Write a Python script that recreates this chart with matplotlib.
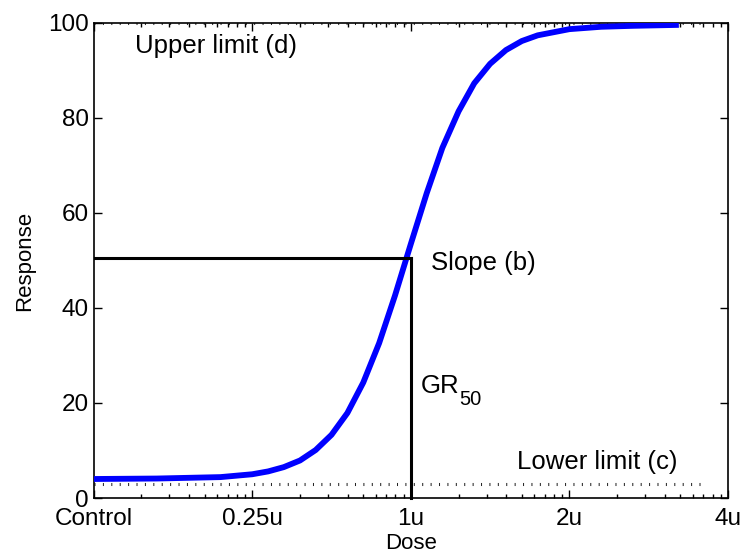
"""Courbe dose-réponse log-logistique avec annotations des paramètres (b, c, d, GR50)."""
import matplotlib
matplotlib.use("Agg")
import matplotlib.pyplot as plt
from matplotlib.ticker import FixedLocator, LogLocator, NullFormatter

plt.rcParams["font.family"] = ["Liberation Sans", "DejaVu Sans"]

# points (dose en échelle log, réponse en %)
dose = [1.0, 2.5, 6.3, 10.0, 12.6, 15.8, 20.0, 25.1, 31.6, 39.8, 50.1,
        63.1, 79.4, 100, 126, 158, 200, 251, 316, 398, 501, 631,
        1000, 1585, 2512, 4900]
response = [4.0, 4.1, 4.4, 5.0, 5.6, 6.5, 7.9, 10.1, 13.3, 17.9, 24.3,
            32.6, 42.6, 53.5, 64.2, 73.7, 81.4, 87.3, 91.4, 94.3, 96.2, 97.4,
            98.7, 99.2, 99.4, 99.6]

tick_pos = [1, 10, 100, 1000, 10000]
tick_labels = ["Control", "0.25u", "1u", "2u", "4u"]

gr50_dose = 100
gr50_resp = 50.5
lower_c = 3
upper_d = 100
limit_end = 7000

fig = plt.figure(figsize=(7.42, 5.55), dpi=100)
ax = fig.add_axes([0.1263, 0.1027, 0.8548, 0.8559])

ax.plot(dose, response, color="#0000ff", lw=4.2, solid_joinstyle="round",
        solid_capstyle="butt", zorder=3)

# limites haute / basse en pointillé
for yv in (lower_c, upper_d):
    ax.plot([1, limit_end], [yv, yv], color="#222222", lw=2.2,
            dashes=(0.33, 2.42), dash_capstyle="butt", zorder=2)

# repère GR50
ax.plot([1, gr50_dose], [gr50_resp, gr50_resp], color="black", lw=2.2, zorder=4)
ax.plot([gr50_dose, gr50_dose], [gr50_resp, 0], color="black", lw=2.2,
        solid_capstyle="projecting", clip_on=False, zorder=4)

fs = 18.5
ax.text(1.82, 93.7, "Upper limit (d)", fontsize=fs, va="baseline")
ax.text(134, 48.0, "Slope (b)", fontsize=fs, va="baseline")
ax.text(116, 22.1, "GR", fontsize=fs, va="baseline")
ax.text(202, 19.6, "50", fontsize=14.5, va="baseline")
ax.text(466, 6.1, "Lower limit (c)", fontsize=fs, va="baseline")

ax.set_xscale("log")
ax.set_xlim(1, 10000)
ax.set_ylim(0, 100)
ax.xaxis.set_major_locator(FixedLocator(tick_pos))
ax.set_xticklabels(tick_labels)
ax.xaxis.set_minor_locator(LogLocator(base=10, subs=range(2, 10)))
ax.xaxis.set_minor_formatter(NullFormatter())
ax.set_yticks([0, 20, 40, 60, 80, 100])

ax.tick_params(which="both", direction="in", top=True, right=True,
               labelsize=17.5, width=1, colors="black")
ax.tick_params(which="major", length=6)
ax.tick_params(which="minor", length=3)
ax.tick_params(axis="x", which="major", pad=7.5)
ax.tick_params(axis="y", which="major", pad=3.5)
for s in ax.spines.values():
    s.set_linewidth(1.2)

ax.set_xlabel("Dose", fontsize=16, labelpad=2)
ax.set_ylabel("Response", fontsize=16, labelpad=9)

fig.savefig("out.png", dpi=100)
